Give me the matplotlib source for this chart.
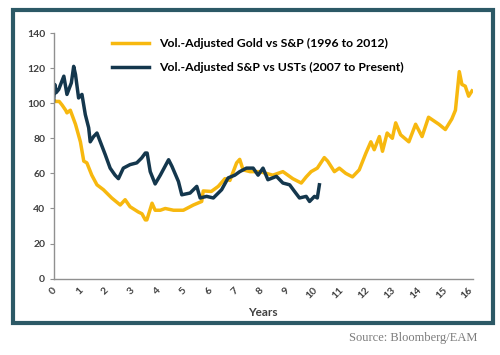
import matplotlib
matplotlib.use("Agg")
import matplotlib.pyplot as plt
from matplotlib.patches import Rectangle

# Values (years since start, index level)
gold_years = [0, 0.08, 0.22, 0.33, 0.47, 0.52, 0.65, 0.85, 1.04, 1.17, 1.29, 1.48, 1.68, 1.93,
              2.25, 2.58, 2.77, 2.96, 3.28, 3.42, 3.55, 3.61, 3.81, 3.93, 4.13, 4.32, 4.64, 5.02,
              5.41, 5.73, 5.79, 6.1, 6.37, 6.63, 6.82, 7.08, 7.2, 7.33, 7.6, 7.97, 8.48, 8.87,
              9.25, 9.58, 9.77, 9.96, 10.2, 10.47, 10.6, 10.86, 11.05, 11.3, 11.56, 11.82, 12.08,
              12.27, 12.4, 12.6, 12.72, 12.9, 13.1, 13.23, 13.42, 13.74, 14.0, 14.25, 14.5, 14.9,
              15.15, 15.4, 15.54, 15.69, 15.79, 15.92, 16.05, 16.18]
gold_values = [102, 101, 101, 99, 96, 94.5, 96, 88, 78, 67, 66, 59, 53.5, 50.7,
               46, 42, 45, 41, 38, 37, 33.5, 33.5, 43, 39, 39, 40, 39, 39,
               42, 44, 50, 49.7, 52.6, 57, 56, 66, 68, 62, 61, 61, 59, 61,
               57, 54.5, 58, 61, 63, 69, 67, 61, 63, 60, 58, 62, 71.6,
               78, 73.5, 81, 72.6, 83, 80, 88.8, 82, 78, 88, 81, 92, 88,
               85, 91, 96, 118, 110.7, 109.7, 104, 107]

spx_years = [0, 0.05, 0.1, 0.2, 0.4, 0.52, 0.69, 0.78, 0.85, 0.97, 1.1, 1.23, 1.36, 1.42,
             1.55, 1.68, 1.81, 2.0, 2.19, 2.38, 2.51, 2.7, 2.96, 3.22, 3.41, 3.55, 3.62, 3.74,
             3.93, 4.13, 4.45, 4.58, 4.83, 4.96, 5.28, 5.54, 5.67, 5.92, 6.18, 6.5, 6.75, 7.01,
             7.2, 7.46, 7.72, 7.91, 8.1, 8.29, 8.62, 8.87, 9.13, 9.32, 9.51, 9.77, 9.9, 10.09,
             10.2, 10.28]
spx_values = [101, 110.7, 106, 107.8, 115.4, 105, 111.6, 121, 116.4, 103, 105, 93.5, 86, 78,
              81, 83, 78, 70.7, 63, 59, 57, 63, 65, 66, 68.8, 71.6, 71.6, 61,
              54, 59, 67.8, 64, 55.4, 47.8, 48.8, 52.6, 46, 46.9, 46, 50.7, 57.4, 59,
              61, 63, 63, 59, 63, 56.4, 58.3, 54.5, 53.5, 49.7, 46, 46.9, 44, 46.9,
              46, 53.5]

x_ticks = list(range(17))
y_ticks = [0, 20, 40, 60, 80, 100, 120, 140]

GOLD = "#F7B80F"
NAVY = "#14374D"
FRAME = "#2C5966"
TEXT = "#404040"
FONT = ["Lato", "DejaVu Sans"]

fig = plt.figure(figsize=(5, 3.55), dpi=100)
ax = fig.add_axes([0.107, 0.215, 0.838, 0.692])

ax.plot(gold_years, gold_values, color=GOLD, lw=2.5, label="Vol.-Adjusted Gold vs S&P (1996 to 2012)")
ax.plot(spx_years, spx_values, color=NAVY, lw=2.5, label="Vol.-Adjusted S&P vs USTs (2007 to Present)")

ax.set_xlim(0, 16.2)
ax.set_ylim(0, 140)
ax.set_xticks(x_ticks)
ax.set_yticks(y_ticks)
ax.set_xticklabels([str(t) for t in x_ticks], rotation=45, ha="center",
                   fontsize=7.5, fontweight="bold", color=TEXT, family=FONT)
ax.set_yticklabels([str(t) for t in y_ticks], fontsize=7.5, fontweight="bold",
                   color=TEXT, family=FONT)
ax.tick_params(axis="x", length=0, pad=5)
ax.tick_params(axis="y", length=3, color="#909090", pad=3)
for side in ("top", "right"):
    ax.spines[side].set_visible(False)
for side in ("left", "bottom"):
    ax.spines[side].set_color("#909090")
    ax.spines[side].set_linewidth(1)

ax.legend(loc="upper left", bbox_to_anchor=(0.14, 0.98), frameon=False,
          borderpad=0, borderaxespad=0, handlelength=3.0, handletextpad=0.8,
          labelspacing=1.05, prop={"family": FONT, "weight": "bold", "size": 8.8})

fig.text(263 / 500, 1 - 313 / 355, "Years", ha="center", va="center",
         fontsize=8.5, fontweight="bold", color=TEXT, family=FONT)

fig.patches.append(Rectangle((13 / 500, 1 - 323 / 355), 480 / 500, 313 / 355,
                             transform=fig.transFigure, fill=False, ec=FRAME, lw=3))

fig.text(477 / 500, 1 - 338 / 355, "Source: Bloomberg/EAM", ha="right", va="center",
         fontsize=9, color="#7C7C7C", family="Liberation Serif")

fig.savefig("out.png", dpi=100)
